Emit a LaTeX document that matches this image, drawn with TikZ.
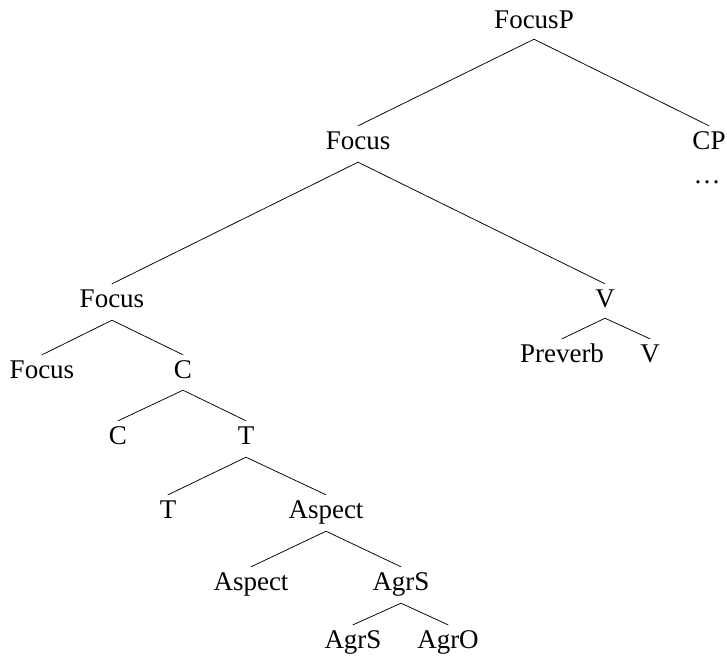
\documentclass[tikz,border=0pt]{standalone}
\usepackage{fontspec}
\setmainfont{Liberation Serif}
\begin{document}
\begin{tikzpicture}[x=1pt, y=-1pt,
  lbl/.style={inner sep=0pt, anchor=base, text height=18pt, text depth=0pt,
              font=\fontsize{27}{32}\selectfont},
  branch/.style={line width=0.75pt, line cap=round}]
\useasboundingbox (0,0) rectangle (727,657);

% labels (placed by their baselines)
\node[lbl] (fp)    at (534,28)  {FocusP};
\node[lbl] (f1)    at (358,149) {Focus};
\node[lbl] (cp)    at (709,149) {CP};
\node[lbl] (dots)  at (707,183) {…};
\node[lbl] (f2)    at (112,307) {Focus};
\node[lbl] (v1)    at (605,307) {V};
\node[lbl] (f3)    at (42,378)  {Focus};
\node[lbl] (c1)    at (183,378) {C};
\node[lbl] (pv)    at (562,362) {Preverb};
\node[lbl] (v2)    at (650,362) {V};
\node[lbl] (c2)    at (118,444) {C};
\node[lbl] (t1)    at (246,444) {T};
\node[lbl] (t2)    at (168,518) {T};
\node[lbl] (a1)    at (326,518) {Aspect};
\node[lbl] (a2)    at (251,590) {Aspect};
\node[lbl] (s1)    at (401,590) {AgrS};
\node[lbl] (s2)    at (353,648) {AgrS};
\node[lbl] (o1)    at (448,648) {AgrO};

% branches from each mother to its daughters
\foreach \m/\d/\gap in {fp/f1/11, fp/cp/11, f1/f2/13, f1/v1/13, f2/f3/13, f2/c1/13,
                        v1/pv/11, v1/v2/11, c1/c2/12, c1/t1/12, t1/t2/13, t1/a1/13,
                        a1/a2/13, a1/s1/13, s1/s2/13, s1/o1/13}
  \draw[branch] ([yshift=-\gap pt]\m.south) -- ([yshift=5pt]\d.north);
\end{tikzpicture}
\end{document}
